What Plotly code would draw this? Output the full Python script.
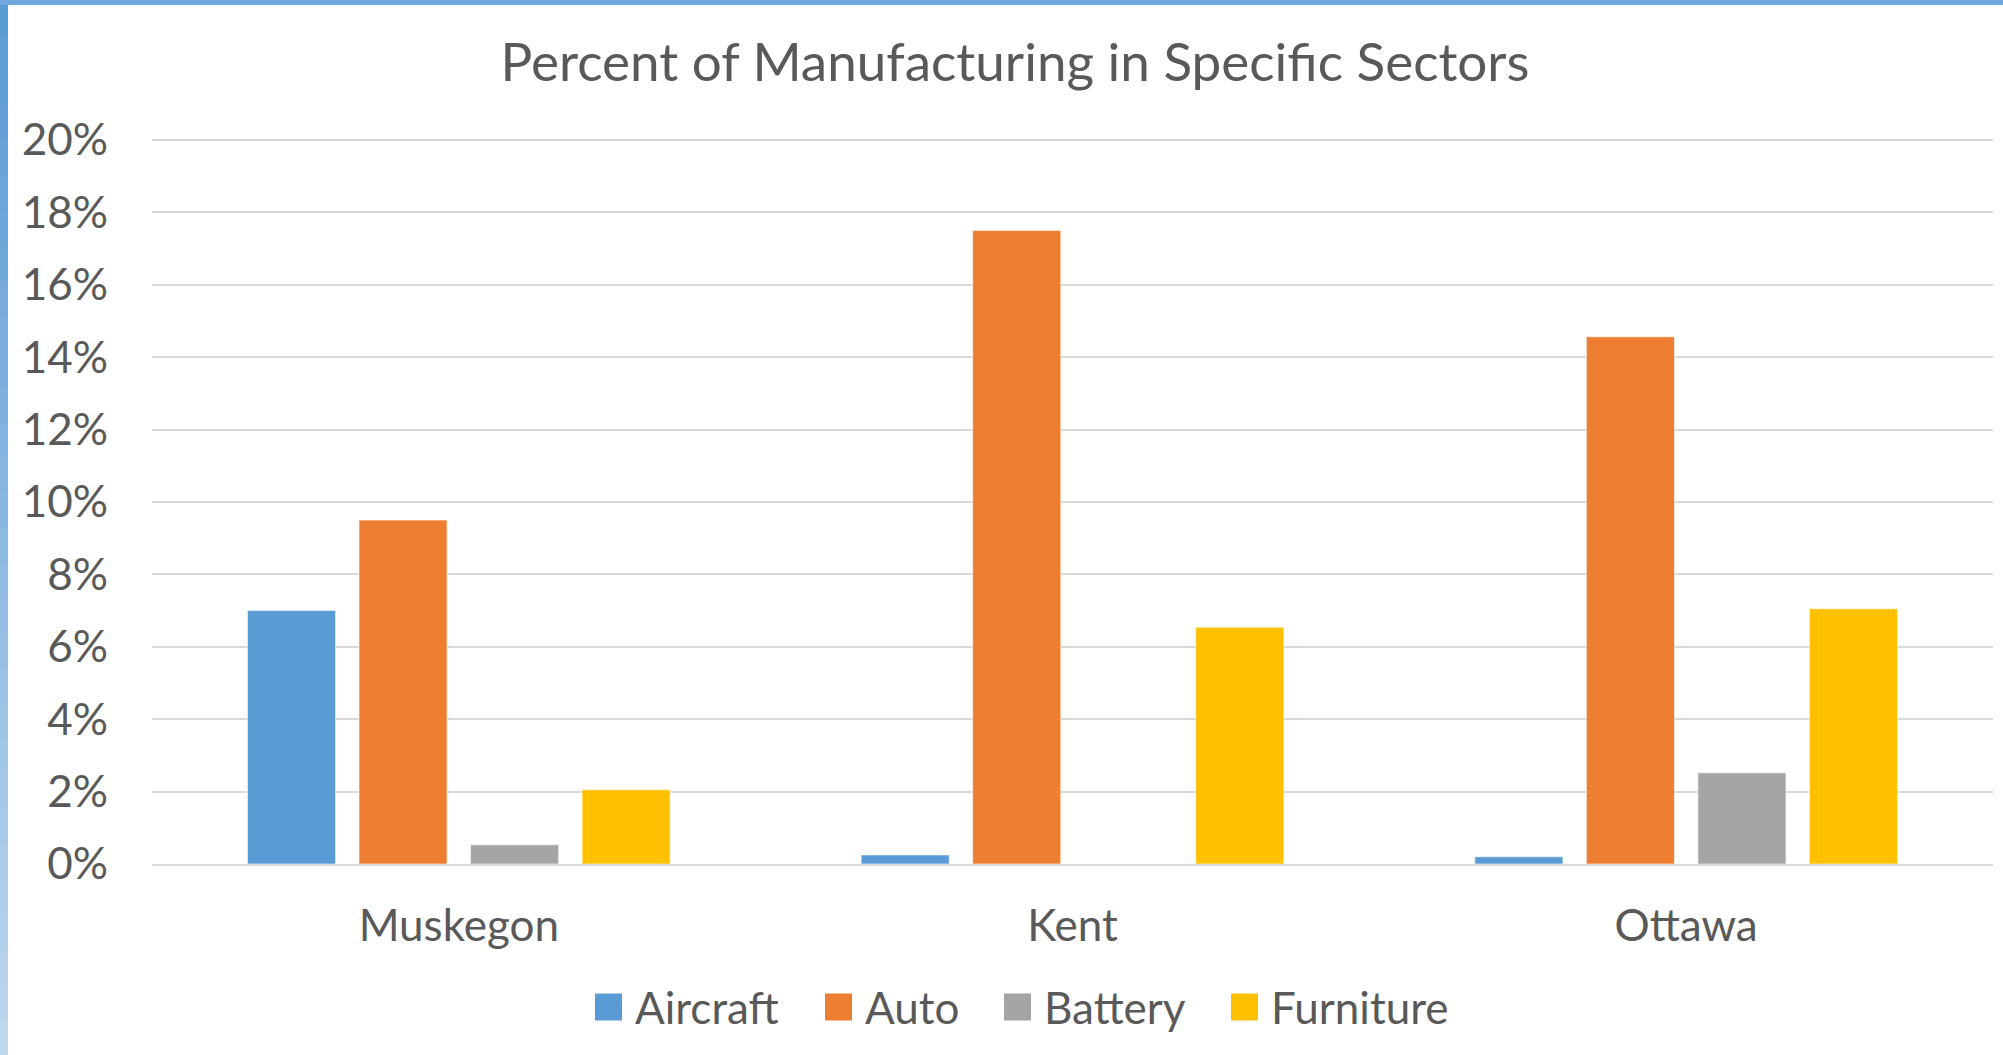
import plotly.graph_objects as go

categories = ["Muskegon", "Kent", "Ottawa"]
series_names = ["Aircraft", "Auto", "Battery", "Furniture"]
aircraft = [0.070, 0.0025, 0.002]
auto = [0.095, 0.175, 0.1456]
battery = [0.0053, 0.0, 0.0252]
furniture = [0.0205, 0.0654, 0.0705]
colors = ["#5B9BD5", "#ED7D31", "#A5A5A5", "#FFC000"]
y_ticks = [0, 0.02, 0.04, 0.06, 0.08, 0.10, 0.12, 0.14, 0.16, 0.18, 0.20]
title_text = "Percent of Manufacturing in Specific Sectors"

W, H = 2003, 1055
L, R, T, B = 152, 10, 137, 191
PW, PH = W - L - R, H - T - B
FONT = "Lato"
TXT = "#595959"


def px(x):
    return (x - L) / PW


def py(y):
    return (H - B - y) / PH


fig = go.Figure()
for name, vals, col in zip(series_names, [aircraft, auto, battery, furniture], colors):
    fig.add_trace(go.Bar(
        x=categories, y=vals, name=name, marker_color=col,
        marker_line=dict(color="rgba(255,255,255,0.6)", width=1),
        showlegend=False,
    ))

shapes = []
# frame borders (left gradient + top)
n = 30
c0 = (0x5B, 0x9B, 0xD5)
c1 = (0xBD, 0xD7, 0xEE)
for i in range(n):
    t = i / (n - 1)
    c = tuple(int(c0[k] + (c1[k] - c0[k]) * t) for k in range(3))
    shapes.append(dict(type="rect", xref="paper", yref="paper",
                       x0=px(0), x1=px(8), y0=py(H * i / n), y1=py(H * (i + 1) / n + 1),
                       fillcolor="rgb(%d,%d,%d)" % c, line=dict(width=0), layer="above"))
shapes.append(dict(type="rect", xref="paper", yref="paper",
                   x0=px(0), x1=px(W), y0=py(0), y1=py(5),
                   fillcolor="#6FA8DC", line=dict(width=0), layer="above"))

annotations = []
# custom legend
leg_sq_x = [595, 825, 1004, 1231]
leg_cy = 1007
for name, col, sx in zip(series_names, colors, leg_sq_x):
    shapes.append(dict(type="rect", xref="paper", yref="paper",
                       x0=px(sx), x1=px(sx + 27), y0=py(leg_cy - 13.5), y1=py(leg_cy + 13.5),
                       fillcolor=col, line=dict(width=0)))
    annotations.append(dict(text=name, xref="paper", yref="paper", x=px(sx + 38), y=py(leg_cy),
                            xanchor="left", yanchor="middle", showarrow=False,
                            font=dict(family=FONT, size=44, color=TXT)))

fig.update_layout(
    width=W, height=H,
    margin=dict(l=L, r=R, t=T, b=B),
    paper_bgcolor="white", plot_bgcolor="white",
    barmode="group", bargap=0.273, bargroupgap=0.21,
    title=dict(text=title_text, x=1015 / W, xanchor="center", y=1 - 62 / H, yanchor="middle",
               xref="container", yref="container",
               font=dict(family=FONT, size=53, color=TXT)),
    shapes=shapes, annotations=annotations,
    showlegend=False,
)
fig.update_yaxes(range=[0, 0.2008], tickvals=y_ticks, tickformat=".0%",
                 showgrid=True, gridcolor="#D9D9D9", gridwidth=2,
                 zeroline=False, showline=False,
                 tickfont=dict(family=FONT, size=44, color=TXT), ticklabelstandoff=43)
fig.update_xaxes(showline=True, linecolor="#D9D9D9", linewidth=2,
                 tickfont=dict(family=FONT, size=44, color=TXT), ticklabelstandoff=22,
                 ticks="")
fig.write_html("out.html", config={"displayModeBar": False},
               post_script="document.body.style.margin='0';document.body.style.overflow='hidden';")
